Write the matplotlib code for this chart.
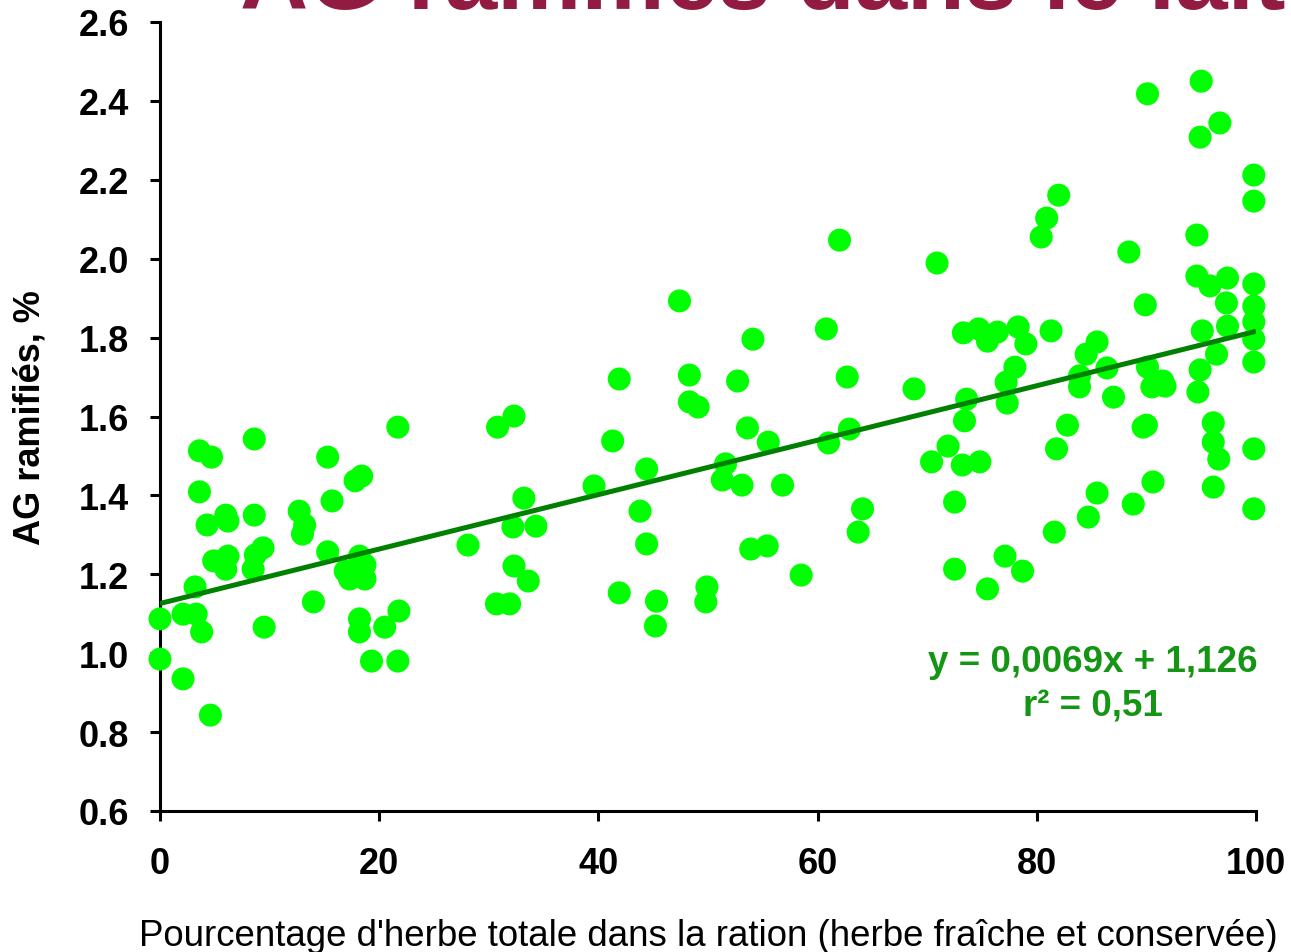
import matplotlib
matplotlib.use("Agg")
import matplotlib.pyplot as plt
import numpy as np

plt.rcParams['font.family'] = ['Liberation Sans', 'DejaVu Sans']

# ---- data ----
herbe_pct = [
    0.0, 0.0, 2.1, 2.1, 3.3, 3.8, 3.2, 3.6, 3.6, 4.7, 4.6, 4.3, 4.9, 6.0, 6.2, 6.0, 6.2,
    8.6, 8.6, 8.5, 8.7, 9.4, 9.5, 12.7, 13.2, 13.0, 14.0, 15.3, 15.7, 15.3, 17.8, 18.4,
    17.3, 16.9, 18.2, 18.7, 18.7, 18.2, 18.2, 19.3, 20.5, 21.8, 21.7, 21.7,
    28.1, 30.8, 30.7, 31.9, 32.3, 32.2, 32.3, 33.6, 33.2, 34.3, 39.6, 41.3, 41.9, 41.9,
    43.8, 44.4, 44.4, 45.2, 45.3, 47.4, 48.3, 48.3, 49.1, 49.8, 49.9, 51.3, 51.6, 52.7,
    53.1, 53.6, 54.1, 53.9, 55.4, 55.5, 56.8, 58.5, 60.8, 61.0, 62.0, 62.7, 62.9, 63.7, 64.1,
    68.8, 70.4, 70.9, 71.9, 72.5, 72.5, 73.3, 73.4, 73.6, 73.2, 74.8, 74.7, 75.5, 75.5,
    76.4, 77.1, 77.2, 77.3, 78.0, 78.3, 79.0, 78.7, 80.4, 80.9, 82.0, 81.3, 81.8, 81.6,
    82.8, 83.9, 83.9, 84.5, 84.7, 85.5, 85.5, 86.4, 87.0, 88.4, 88.8, 89.9, 89.7, 90.1,
    90.1, 90.0, 90.5, 90.6, 91.5, 91.7, 94.6, 94.6, 94.7, 94.9, 95.0, 94.9, 95.1, 95.8,
    96.1, 96.1, 96.1, 96.4, 96.6, 96.7, 97.4, 97.3, 97.4,
    99.8, 99.8, 99.8, 99.8, 99.8, 99.8, 99.8, 99.8, 99.8,
]
ag_ramifies = [
    1.087, 0.985, 0.935, 1.099, 1.099, 1.054, 1.168, 1.409, 1.513, 1.497, 0.843, 1.325,
    1.234, 1.213, 1.246, 1.350, 1.335, 1.543, 1.350, 1.213, 1.249, 1.267, 1.066, 1.360,
    1.325, 1.302, 1.130, 1.497, 1.386, 1.257, 1.437, 1.449, 1.188, 1.208, 1.246, 1.224,
    1.188, 1.087, 1.054, 0.980, 1.066, 1.107, 0.980, 1.573,
    1.274, 1.573, 1.125, 1.125, 1.601, 1.320, 1.221, 1.183, 1.393, 1.322, 1.424, 1.538,
    1.695, 1.153, 1.360, 1.467, 1.277, 1.069, 1.132, 1.893, 1.705, 1.637, 1.624, 1.130,
    1.168, 1.439, 1.480, 1.690, 1.426, 1.571, 1.796, 1.264, 1.272, 1.535, 1.426, 1.198,
    1.822, 1.533, 2.047, 1.700, 1.568, 1.307, 1.366,
    1.670, 1.485, 1.989, 1.525, 1.383, 1.213, 1.812, 1.589, 1.644, 1.477, 1.485, 1.822,
    1.163, 1.791, 1.814, 1.246, 1.687, 1.634, 1.725, 1.827, 1.784, 1.208, 2.055, 2.103,
    2.161, 1.817, 1.518, 1.307, 1.578, 1.675, 1.703, 1.758, 1.345, 1.789, 1.406, 1.723,
    1.649, 2.017, 1.378, 1.883, 1.573, 2.418, 1.725, 1.578, 1.675, 1.434, 1.690, 1.677,
    2.060, 1.956, 1.662, 2.308, 2.450, 1.718, 1.817, 1.931, 1.584, 1.535, 1.421, 1.758,
    1.492, 2.344, 1.951, 1.888, 1.829,
    2.212, 2.146, 1.936, 1.880, 1.840, 1.796, 1.738, 1.518, 1.366,
]
slope = 0.0069
intercept = 1.126
r2_text = "0,51"
x_ticks = [0, 20, 40, 60, 80, 100]
y_ticks = [0.6, 0.8, 1.0, 1.2, 1.4, 1.6, 1.8, 2.0, 2.2, 2.4, 2.6]

title = "AG ramifiés dans le lait"
ylabel = "AG ramifiés, %"
xlabel = "Pourcentage d'herbe totale dans la ration (herbe fraîche et conservée)"

# ---- figure ----
W, H = 1291, 953
fig = plt.figure(figsize=(W / 100, H / 100), dpi=100)
ax = fig.add_axes([160 / W, 1 - 812 / H, (1256 - 160) / W, (812 - 23) / H])

ax.scatter(herbe_pct, ag_ramifies, s=275, color='#00ff00', edgecolors='none',
           zorder=3, clip_on=False)

xl = np.array([0, 100])
ax.plot(xl, slope * xl + intercept, color='#008000', lw=3.6, zorder=4,
        solid_capstyle='butt')

ax.set_xlim(0, 100)
ax.set_ylim(0.6, 2.6)
ax.set_xticks(x_ticks)
ax.set_yticks(y_ticks)
ax.set_xticklabels([str(v) for v in x_ticks], fontsize=26, fontweight='bold')
ax.set_yticklabels([f"{v:.1f}" for v in y_ticks], fontsize=26, fontweight='bold')

for s in ['top', 'right']:
    ax.spines[s].set_visible(False)
for s in ['left', 'bottom']:
    ax.spines[s].set_linewidth(2.2)
    ax.spines[s].set_color('black')
ax.tick_params(axis='both', direction='out', length=7, width=2.2, colors='black')
ax.tick_params(axis='x', pad=18)
ax.tick_params(axis='y', pad=15)

ax.set_ylabel(ylabel, fontsize=26, fontweight='bold')
ax.yaxis.set_label_coords(-0.119, 0.5)
ax.set_xlabel(xlabel, fontsize=26.4)
ax.xaxis.set_label_coords(0.5, -0.158)
ax.xaxis.label.set_verticalalignment('center')
ax.yaxis.label.set_verticalalignment('center')

eq_color = '#149614'
ax.text(0.851, 0.190, f"y = {str(slope).replace('.', ',')}x + {str(intercept).replace('.', ',')}",
        transform=ax.transAxes, ha='center', va='center', fontsize=26.5,
        fontweight='bold', color=eq_color)
ax.text(0.851, 0.134, f"r² = {r2_text}", transform=ax.transAxes, ha='center',
        va='center', fontsize=26.5, fontweight='bold', color=eq_color)

# title is partly cropped at the top edge, as in the reference
fig.text(240 / W, 1 - 9 / H, title, ha='left', va='baseline', fontsize=68,
         fontweight='bold', color='#921c41')

fig.savefig("out.png", dpi=100)
